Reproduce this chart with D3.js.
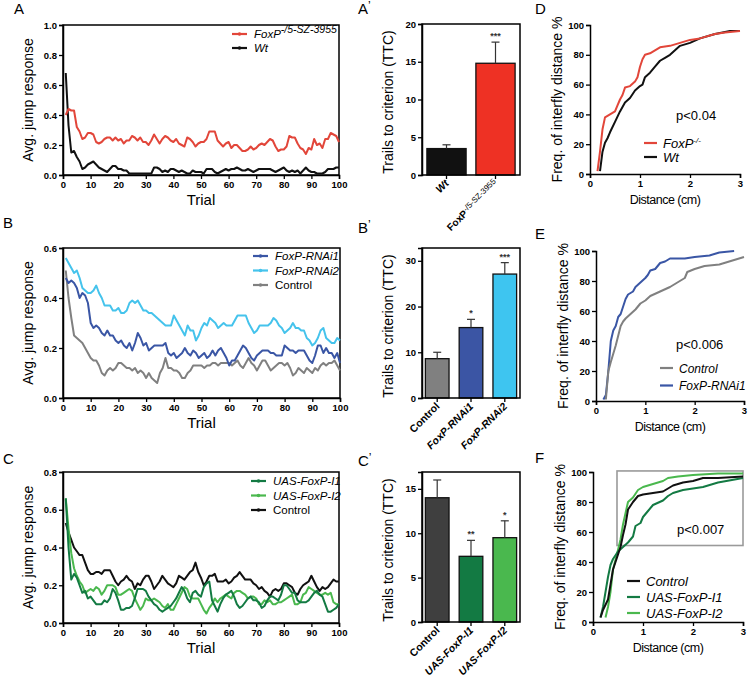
<!DOCTYPE html>
<html><head><meta charset="utf-8">
<script src="https://cdn.jsdelivr.net/npm/d3@7"></script>
<style>
body{margin:0;background:#fff;}
svg{font-family:"Liberation Sans",Arial,sans-serif;}
.tick text{font-weight:bold;font-size:9.5px;font-family:"Liberation Sans",Arial,sans-serif;}
</style></head>
<body><svg id="c" width="750" height="681"></svg>
<script>
// ---------- DATA ----------
const trialTicks = [0,10,20,30,40,50,60,70,80,90,100];
const yTicksA = [0,0.2,0.4,0.6,0.8,1.0];
const yTicksB = [0,0.2,0.4,0.6];
const yTicksC = [0,0.2,0.4,0.6,0.8];

const A_FoxP = [0.40,0.44,0.43,0.43,0.32,0.29,0.24,0.25,0.28,0.28,
0.27,0.22,0.21,0.22,0.24,0.25,0.25,0.23,0.25,0.23,
0.24,0.21,0.23,0.23,0.26,0.25,0.23,0.25,0.22,0.22,
0.20,0.23,0.27,0.24,0.21,0.24,0.26,0.25,0.23,0.22,
0.24,0.21,0.20,0.19,0.25,0.24,0.22,0.19,0.21,0.22,
0.22,0.24,0.29,0.29,0.29,0.23,0.21,0.19,0.21,0.22,
0.18,0.20,0.20,0.18,0.16,0.16,0.17,0.19,0.17,0.18,
0.20,0.21,0.20,0.22,0.24,0.23,0.19,0.16,0.17,0.17,
0.19,0.26,0.25,0.25,0.21,0.18,0.17,0.14,0.18,0.17,
0.24,0.20,0.21,0.18,0.24,0.24,0.28,0.27,0.26,0.22];
const A_Wt = [0.68,0.33,0.15,0.16,0.12,0.09,0.04,0.05,0.07,0.08,
0.09,0.07,0.05,0.04,0.03,0.02,0.04,0.06,0.06,0.04,
0.04,0.03,0.03,0.01,0.01,0.01,0.01,0.01,0.01,0.01,
0.01,0.01,0.05,0.05,0.04,0.02,0.03,0.02,0.04,0.04,
0.03,0.02,0.03,0.02,0.01,0.01,0.03,0.02,0.02,0.02,
0.01,0.04,0.04,0.04,0.02,0.01,0.02,0.03,0.04,0.03,
0.04,0.04,0.05,0.04,0.03,0.03,0.04,0.03,0.02,0.03,
0.04,0.04,0.04,0.04,0.04,0.03,0.02,0.03,0.04,0.05,
0.03,0.02,0.03,0.02,0.03,0.01,0.03,0.05,0.03,0.02,
0.02,0.01,0.01,0.01,0.02,0.04,0.04,0.04,0.05,0.05];

const B_RNAi1 = [0.48,0.46,0.47,0.46,0.44,0.40,0.42,0.41,0.38,0.30,
0.28,0.29,0.28,0.26,0.25,0.27,0.25,0.25,0.23,0.22,
0.23,0.21,0.20,0.22,0.19,0.22,0.26,0.24,0.21,0.22,
0.19,0.20,0.21,0.21,0.21,0.21,0.22,0.18,0.17,0.18,
0.16,0.17,0.18,0.20,0.18,0.17,0.19,0.18,0.16,0.17,
0.18,0.16,0.17,0.19,0.17,0.19,0.20,0.18,0.16,0.13,
0.15,0.15,0.17,0.19,0.21,0.20,0.18,0.16,0.15,0.17,
0.18,0.19,0.19,0.19,0.18,0.18,0.17,0.17,0.17,0.21,
0.20,0.19,0.19,0.18,0.19,0.19,0.19,0.17,0.15,0.14,
0.17,0.21,0.21,0.18,0.20,0.18,0.18,0.16,0.18,0.14];
const B_RNAi2 = [0.56,0.54,0.52,0.50,0.51,0.48,0.44,0.43,0.42,0.42,
0.43,0.45,0.42,0.40,0.37,0.37,0.37,0.35,0.35,0.36,
0.34,0.34,0.35,0.38,0.39,0.38,0.39,0.37,0.35,0.35,
0.34,0.34,0.33,0.32,0.31,0.30,0.29,0.29,0.29,0.33,
0.31,0.29,0.27,0.25,0.29,0.27,0.27,0.23,0.25,0.28,
0.30,0.29,0.32,0.31,0.30,0.28,0.29,0.30,0.29,0.29,
0.29,0.31,0.33,0.33,0.33,0.33,0.30,0.28,0.26,0.27,
0.29,0.29,0.29,0.29,0.30,0.32,0.31,0.29,0.28,0.26,
0.27,0.28,0.30,0.28,0.28,0.27,0.27,0.24,0.23,0.21,
0.22,0.24,0.27,0.28,0.24,0.23,0.22,0.22,0.24,0.23];
const B_Control = [0.51,0.40,0.32,0.25,0.24,0.23,0.22,0.20,0.18,0.16,
0.15,0.15,0.13,0.10,0.09,0.11,0.12,0.11,0.12,0.14,
0.14,0.13,0.12,0.12,0.11,0.12,0.10,0.11,0.10,0.08,
0.10,0.08,0.07,0.06,0.10,0.12,0.16,0.12,0.12,0.11,
0.11,0.10,0.08,0.08,0.10,0.11,0.13,0.13,0.13,0.13,
0.12,0.13,0.13,0.14,0.14,0.13,0.14,0.14,0.14,0.14,
0.13,0.14,0.15,0.13,0.12,0.14,0.16,0.14,0.13,0.11,
0.13,0.15,0.15,0.13,0.11,0.12,0.13,0.14,0.14,0.13,
0.14,0.12,0.09,0.10,0.12,0.11,0.10,0.12,0.11,0.10,
0.12,0.11,0.13,0.14,0.13,0.14,0.14,0.15,0.13,0.11];

const C_I1 = [0.66,0.40,0.23,0.26,0.24,0.20,0.16,0.17,0.13,0.14,
0.12,0.10,0.10,0.10,0.12,0.11,0.13,0.18,0.16,0.12,
0.07,0.07,0.08,0.08,0.09,0.13,0.18,0.18,0.18,0.17,
0.14,0.12,0.10,0.09,0.07,0.06,0.07,0.08,0.09,0.11,
0.13,0.16,0.19,0.17,0.13,0.11,0.16,0.17,0.15,0.14,
0.19,0.21,0.22,0.12,0.09,0.06,0.10,0.13,0.15,0.16,
0.17,0.14,0.10,0.08,0.09,0.11,0.13,0.14,0.12,0.12,
0.11,0.08,0.09,0.12,0.14,0.14,0.13,0.12,0.15,0.20,
0.20,0.18,0.16,0.16,0.12,0.11,0.11,0.11,0.12,0.14,
0.16,0.17,0.15,0.14,0.10,0.06,0.06,0.07,0.08,0.10];
const C_I2 = [0.66,0.50,0.37,0.29,0.25,0.22,0.20,0.16,0.17,0.18,
0.17,0.19,0.18,0.15,0.17,0.20,0.20,0.20,0.19,0.15,
0.15,0.16,0.17,0.18,0.17,0.13,0.10,0.07,0.09,0.13,
0.12,0.12,0.13,0.12,0.11,0.09,0.08,0.10,0.07,0.07,
0.10,0.13,0.16,0.19,0.18,0.14,0.13,0.13,0.13,0.10,
0.07,0.05,0.08,0.10,0.13,0.11,0.13,0.14,0.15,0.14,
0.13,0.16,0.17,0.17,0.16,0.15,0.13,0.14,0.14,0.13,
0.10,0.10,0.12,0.11,0.12,0.10,0.10,0.11,0.11,0.12,
0.13,0.14,0.15,0.10,0.10,0.11,0.15,0.16,0.19,0.18,
0.17,0.16,0.15,0.15,0.16,0.15,0.16,0.11,0.10,0.10];
const C_Control = [0.53,0.48,0.44,0.40,0.38,0.36,0.36,0.32,0.28,0.26,
0.26,0.27,0.27,0.26,0.28,0.28,0.28,0.25,0.22,0.20,
0.22,0.23,0.25,0.23,0.22,0.18,0.21,0.20,0.23,0.25,
0.25,0.22,0.18,0.20,0.22,0.25,0.23,0.21,0.20,0.19,
0.21,0.25,0.24,0.23,0.25,0.27,0.28,0.32,0.27,0.24,
0.20,0.22,0.25,0.25,0.26,0.22,0.22,0.22,0.23,0.21,
0.22,0.24,0.25,0.27,0.25,0.23,0.23,0.23,0.21,0.20,
0.18,0.19,0.17,0.16,0.14,0.17,0.18,0.17,0.18,0.21,
0.21,0.20,0.19,0.16,0.15,0.18,0.20,0.21,0.22,0.25,
0.22,0.19,0.17,0.19,0.18,0.19,0.21,0.23,0.22,0.22];

// bar charts (TTC)
const barA_groups = ["Wt","FoxP"];
const barA_means = [3.5,14.8];
const barA_errTop = [4.0,17.6];
const barA_stars = ["","***"];
const barA_ticks = [0,5,10,15,20];

const barB_groups = ["Control","FoxP-RNAi1","FoxP-RNAi2"];
const barB_means = [8.6,15.4,27.1];
const barB_errTop = [10.0,17.2,29.6];
const barB_stars = ["","*","***"];
const barB_ticks = [0,10,20,30];

const barC_groups = ["Control","UAS-FoxP-I1","UAS-FoxP-I2"];
const barC_means = [14.0,7.4,9.5];
const barC_errTop = [16.0,9.2,11.4];
const barC_stars = ["","**","*"];
const barC_ticks = [0,5,10,15];

// cumulative distributions (distance cm, %)
const distTicks = [0,1,2,3];
const freqTicks = [0,20,40,60,80,100];
const D_FoxP_x = [0.15,0.2,0.25,0.3,0.4,0.5,0.55,0.6,0.65,0.7,0.8,0.9,0.95,1.0,1.05,1.1,1.2,1.3,1.4,1.6,1.8,2.0,2.2,2.5,2.7,3.0];
const D_FoxP_y = [2,15,30,38,40,42,46,50,53,58,59,62,65,72,77,80,81,83,85,86,88,90,91,94,95,96];
const D_Wt_x = [0.2,0.25,0.3,0.35,0.4,0.5,0.6,0.7,0.8,0.9,1.0,1.05,1.1,1.2,1.3,1.4,1.5,1.6,1.7,1.8,2.0,2.2,2.5,2.8,3.0];
const D_Wt_y = [2,15,21,24,28,35,42,48,51,56,59,60,65,68,72,76,78,80,83,86,88,91,94,96,96];

const E_Control_x = [0.2,0.25,0.3,0.4,0.5,0.55,0.6,0.7,0.8,0.9,1.0,1.1,1.3,1.5,1.6,1.8,1.85,2.0,2.2,2.5,2.7,3.0];
const E_Control_y = [1,20,26,37,50,53,55,58,61,65,67,70,73,76,78,82,86,88,90,91,93,96];
const E_RNAi1_x = [0.15,0.2,0.25,0.3,0.35,0.4,0.45,0.5,0.55,0.6,0.65,0.75,0.8,0.9,1.0,1.05,1.1,1.2,1.3,1.4,1.5,1.8,2.0,2.3,2.5,2.8];
const E_RNAi1_y = [1,4,20,40,47,50,56,58,63,68,71,73,76,79,82,84,87,88,92,93,95,95,96,97,99,100];

const F_Control_x = [0.15,0.2,0.3,0.35,0.4,0.5,0.55,0.6,0.65,0.7,0.8,0.9,1.0,1.2,1.4,1.5,1.6,1.8,2.0,2.2,2.5,3.0];
const F_Control_y = [3,8,15,25,35,45,50,58,65,75,80,84,85,86,87,89,91,93,94,96,96,97];
const F_I1_x = [0.15,0.2,0.25,0.3,0.35,0.4,0.5,0.6,0.7,0.8,0.85,0.95,1.0,1.1,1.2,1.4,1.5,1.6,1.8,2.0,2.2,2.5,3.0];
const F_I1_y = [3,10,20,30,38,42,47,50,53,57,64,66,70,74,78,81,84,86,88,89,90,93,96];
const F_I2_x = [0.25,0.3,0.35,0.4,0.5,0.55,0.6,0.7,0.8,0.9,1.0,1.2,1.4,1.5,1.7,2.0,2.5,3.0];
const F_I2_y = [3,10,20,35,48,55,65,80,83,88,90,92,94,96,97,98,99,99];

// ---------- COLOURS ----------
const col = {
  red:"#e2463a", black:"#111111", dblue:"#3a56a5", lblue:"#45c3ec", grey:"#808080",
  dgreen:"#137a43", lgreen:"#4ab84e", dark:"#3f3f3f",
  redBar:"#ee3124", lblueBar:"#3ec5f0", dblueBar:"#3b55a4"
};

const svg = d3.select("#c");

function panelLabel(x,y,t){
  const tx = svg.append("text").attr("x",x).attr("y",y).attr("font-size",15);
  tx.append("tspan").text(t[0]);
  if(t.length>1) tx.append("tspan").attr("font-size",12).attr("dy",-4).text("’");
}

function styleAxis(g){
  g.selectAll("path,line").attr("stroke","#000").attr("stroke-width",1.3);
  g.select(".domain").attr("stroke-width",1.5);
}

function linePanel(o){
  const g = svg.append("g");
  const x = d3.scaleLinear().domain([0,100]).range([o.x0,o.x1]);
  const y = d3.scaleLinear().domain([0,o.ymax]).range([o.y1,o.y0]);
  const ax = g.append("g").attr("transform",`translate(0,${o.y1})`)
    .call(d3.axisBottom(x).tickValues(trialTicks).tickSize(4).tickPadding(2).tickFormat(d3.format("d")));
  styleAxis(ax);
  const ay = g.append("g").attr("transform",`translate(${o.x0},0)`)
    .call(d3.axisLeft(y).tickValues(o.yticks).tickSize(4).tickPadding(2).tickFormat(d3.format(".1f")));
  styleAxis(ay);
  g.append("rect").attr("x",o.x0).attr("y",o.y0).attr("width",o.x1-o.x0).attr("height",o.y1-o.y0)
    .attr("fill","none").attr("stroke","#000").attr("stroke-width",1.5);
  const line = d3.line().x((d,i)=>x(i+1)).y(d=>y(d));
  o.series.slice().reverse().forEach(s=>{
    g.append("path").datum(s.data).attr("d",line).attr("fill","none")
      .attr("stroke",s.color).attr("stroke-width",2).attr("stroke-linejoin","round");
  });
  // legend
  o.series.forEach((s,i)=>{
    const ly = o.legY + i*o.legDy;
    g.append("line").attr("x1",o.legX).attr("x2",o.legX+15).attr("y1",ly).attr("y2",ly)
      .attr("stroke",s.color).attr("stroke-width",2.2);
    g.append("circle").attr("cx",o.legX+7.5).attr("cy",ly).attr("r",1.8).attr("fill",s.color);
    const t = g.append("text").attr("x",o.legX+22).attr("y",ly+4).attr("font-size",11.5)
      .attr("font-style",s.italic?"italic":"normal");
    t.append("tspan").text(s.label);
    if(s.sup) t.append("tspan").attr("font-size",10.5).attr("dy",-5).text(s.sup);
  });
  g.append("text").attr("transform",`translate(${o.x0-30},${(o.y0+o.y1)/2}) rotate(-90)`)
    .attr("text-anchor","middle").attr("font-size",14).text("Avg. jump response");
  g.append("text").attr("x",(o.x0+o.x1)/2).attr("y",o.y1+30).attr("text-anchor","middle")
    .attr("font-size",15).text("Trial");
}

function barPanel(o){
  const g = svg.append("g");
  const x = d3.scaleBand().domain(o.groups).range([o.x0,o.x1]).paddingInner(o.pi).paddingOuter(o.po);
  const y = d3.scaleLinear().domain([0,o.ymax]).range([o.y1,o.y0]);
  o.groups.forEach((gname,i)=>{
    g.append("rect").attr("x",x(gname)).attr("y",y(o.means[i])).attr("width",x.bandwidth())
      .attr("height",y(0)-y(o.means[i])).attr("fill",o.colors[i]).attr("stroke","#111").attr("stroke-width",1.3);
    const cx = x(gname)+x.bandwidth()/2;
    g.append("line").attr("x1",cx).attr("x2",cx).attr("y1",y(o.means[i])).attr("y2",y(o.errTop[i]))
      .attr("stroke","#333").attr("stroke-width",1.2);
    g.append("line").attr("x1",cx-4).attr("x2",cx+4).attr("y1",y(o.errTop[i])).attr("y2",y(o.errTop[i]))
      .attr("stroke","#333").attr("stroke-width",1.2);
    if(o.stars[i]) g.append("text").attr("x",cx).attr("y",y(o.errTop[i])-3).attr("text-anchor","middle")
      .attr("font-size",9).attr("font-weight","bold").attr("fill","#333").text(o.stars[i]);
  });
  const ay = g.append("g").attr("transform",`translate(${o.x0},0)`)
    .call(d3.axisLeft(y).tickValues(o.ticks).tickSize(4).tickPadding(2).tickFormat(d3.format("d")));
  styleAxis(ay);
  g.append("rect").attr("x",o.x0).attr("y",o.y0).attr("width",o.x1-o.x0).attr("height",o.y1-o.y0)
    .attr("fill","none").attr("stroke","#000").attr("stroke-width",1.5);
  o.groups.forEach((gname,i)=>{
    const cx = x(gname)+x.bandwidth()/2;
    g.append("line").attr("x1",cx).attr("x2",cx).attr("y1",o.y1).attr("y2",o.y1+4).attr("stroke","#000").attr("stroke-width",1.3);
    const t = g.append("text").attr("transform",`translate(${cx+3},${o.y1+9}) rotate(-45)`)
      .attr("text-anchor","end").attr("font-size",10.5).attr("font-weight","bold")
      .attr("font-style",o.italic[i]?"italic":"normal");
    if(o.supLabel && o.supLabel[i]){
      t.attr("font-size",10).attr("font-style","normal");
      t.append("tspan").text(o.groups[i]);
      t.append("tspan").attr("font-size",8).attr("font-weight","normal").attr("dy",-3).text(o.supLabel[i]);
    } else t.text(o.groups[i]);
  });
  g.append("text").attr("transform",`translate(${o.x0-29},${o.y0+78}) rotate(-90)`)
    .attr("text-anchor","middle").attr("font-size",14).text("Trails to criterion (TTC)");
}

function cdfPanel(o){
  const g = svg.append("g");
  const x = d3.scaleLinear().domain([0,3]).range([o.x0,o.x1]);
  const y = d3.scaleLinear().domain([0,100]).range([o.y1,o.y0]);
  if(o.box){
    g.append("rect").attr("x",x(o.box[0])).attr("y",y(o.box[3])).attr("width",x(o.box[1])-x(o.box[0]))
      .attr("height",y(o.box[2])-y(o.box[3])).attr("fill","none").attr("stroke","#9a9a9a").attr("stroke-width",1.6);
  }
  const line = d3.line().x(d=>x(d[0])).y(d=>y(d[1]));
  o.series.slice().reverse().forEach(s=>{
    g.append("path").datum(d3.zip(s.xs,s.ys)).attr("d",line).attr("fill","none")
      .attr("stroke",s.color).attr("stroke-width",2).attr("stroke-linejoin","round");
  });
  const ax = g.append("g").attr("transform",`translate(0,${o.y1})`)
    .call(d3.axisBottom(x).tickValues(distTicks).tickSize(4).tickPadding(2).tickFormat(d3.format("d")));
  styleAxis(ax);
  const ay = g.append("g").attr("transform",`translate(${o.x0},0)`)
    .call(d3.axisLeft(y).tickValues(freqTicks).tickSize(4).tickPadding(2).tickFormat(d3.format("d")));
  styleAxis(ay);
  o.series.forEach((s,i)=>{
    const ly = o.legY + i*o.legDy;
    g.append("line").attr("x1",o.legX).attr("x2",o.legX+13).attr("y1",ly).attr("y2",ly)
      .attr("stroke",s.color).attr("stroke-width",2.2);
    const t = g.append("text").attr("x",o.legX+19).attr("y",ly+4.5).attr("font-size",o.legFont||13).attr("font-style","italic");
    t.append("tspan").text(s.label);
    if(s.sup) t.append("tspan").attr("font-size",8).attr("dy",-5).text(s.sup);
  });
  g.append("text").attr("x",o.px).attr("y",o.py).attr("font-size",13).text(o.ptext);
  g.append("text").attr("transform",`translate(${o.x0-28},${(o.y0+o.y1)/2}) rotate(-90)`)
    .attr("text-anchor","middle").attr("font-size",14).text("Freq. of interfly distance %");
  g.append("text").attr("x",(o.x0+o.x1)/2).attr("y",o.y1+30).attr("text-anchor","middle")
    .attr("font-size",12.5).attr("letter-spacing",-0.5).text("Distance (cm)");
}

// ---------- PANELS ----------
panelLabel(14,14,"A"); panelLabel(358,14,"A'"); panelLabel(535,14,"D");
panelLabel(3,228,"B"); panelLabel(358,233,"B'"); panelLabel(535,239,"E");
panelLabel(3,464,"C"); panelLabel(358,466,"C'"); panelLabel(535,463,"F");

linePanel({x0:63,x1:339,y0:25,y1:175,ymax:1.0,yticks:yTicksA,legX:232,legY:34,legDy:14,
  series:[{data:A_FoxP,color:col.red,label:"FoxP",sup:"-/5-SZ-3955",italic:true},
          {data:A_Wt,color:col.black,label:"Wt",italic:true}]});
linePanel({x0:63,x1:340,y0:248,y1:398,ymax:0.6,yticks:yTicksB,legX:253,legY:256,legDy:14.5,
  series:[{data:B_RNAi1,color:col.dblue,label:"FoxP-RNAi1",italic:true},
          {data:B_RNAi2,color:col.lblue,label:"FoxP-RNAi2",italic:true},
          {data:B_Control,color:col.grey,label:"Control",italic:false}]});
linePanel({x0:63,x1:339,y0:472,y1:623,ymax:0.8,yticks:yTicksC,legX:251,legY:481,legDy:14.5,
  series:[{data:C_I1,color:col.dgreen,label:"UAS-FoxP-I1",italic:true},
          {data:C_I2,color:col.lgreen,label:"UAS-FoxP-I2",italic:true},
          {data:C_Control,color:col.black,label:"Control",italic:false}]});

barPanel({x0:422,x1:520,y0:24,y1:175,ymax:20,ticks:barA_ticks,groups:barA_groups,means:barA_means,
  errTop:barA_errTop,stars:barA_stars,colors:[col.black,col.redBar],pi:0.2,po:0.1,
  italic:[true,false],supLabel:["","-/5-SZ-3955"]});
barPanel({x0:422,x1:520,y0:248,y1:398,ymax:32.8,ticks:barB_ticks,groups:barB_groups,means:barB_means,
  errTop:barB_errTop,stars:barB_stars,colors:[col.grey,col.dblueBar,col.lblueBar],pi:0.3,po:0.1,
  italic:[false,true,true]});
barPanel({x0:422,x1:520,y0:472,y1:622,ymax:16.9,ticks:barC_ticks,groups:barC_groups,means:barC_means,
  errTop:barC_errTop,stars:barC_stars,colors:[col.dark,col.dgreen,col.lgreen],pi:0.3,po:0.1,
  italic:[false,true,true]});

cdfPanel({x0:590,x1:740,y0:25,y1:174,legX:644,legY:143,legDy:14,px:676,py:120,ptext:"p<0.04",
  series:[{xs:D_FoxP_x,ys:D_FoxP_y,color:col.red,label:"FoxP",sup:"-/-"},
          {xs:D_Wt_x,ys:D_Wt_y,color:col.black,label:"Wt"}]});
cdfPanel({x0:596,x1:744,y0:251,y1:401,legX:660,legY:368,legDy:17.5,px:676,py:349,ptext:"p<0.006",legFont:12,
  series:[{xs:E_Control_x,ys:E_Control_y,color:col.grey,label:"Control"},
          {xs:E_RNAi1_x,ys:E_RNAi1_y,color:col.dblue,label:"FoxP-RNAi1"}]});
cdfPanel({x0:593,x1:743,y0:472,y1:622,legX:627,legY:581,legDy:16,px:677,py:534,ptext:"p<0.007",
  box:[0.48,3.0,51,100.7],
  series:[{xs:F_Control_x,ys:F_Control_y,color:col.black,label:"Control"},
          {xs:F_I1_x,ys:F_I1_y,color:col.dgreen,label:"UAS-FoxP-I1"},
          {xs:F_I2_x,ys:F_I2_y,color:col.lgreen,label:"UAS-FoxP-I2"}]});
</script></body></html>
